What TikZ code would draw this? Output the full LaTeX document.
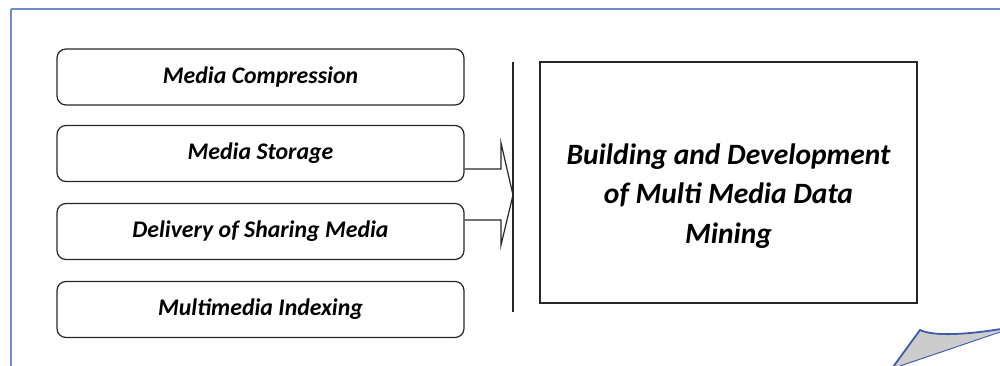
\documentclass[tikz,border=0pt]{standalone}
\usepackage{fontspec}
\setmainfont{Carlito}
\begin{document}
\begin{tikzpicture}[x=1pt,y=-1pt,
  lab/.style={font=\fontsize{23.8}{28}\selectfont\bfseries\itshape},
  ibox/.style={draw=black!85, line width=1.2pt, rounded corners=9pt, minimum width=407pt, minimum height=56pt, inner sep=0pt, lab},
  frameline/.style={draw={rgb,255:red,112;green,140;blue,205}, line width=1.3pt},
  curlline/.style={draw={rgb,255:red,63;green,90;blue,170}, line width=1.8pt},
]
\useasboundingbox (0,0) rectangle (1000,366);
\draw[frameline] (11,9) -- (1010,9);
\draw[frameline] (11,9) -- (11,376);

\node[ibox] (b1) at (260.5,77) {Media Compression};
\node[ibox] (b2) at (260.5,153.5) {Media Storage};
\node[ibox] (b3) at (260.5,231.5) {Delivery of Sharing Media};
\node[ibox] (b4) at (260.5,309.5) {Multimedia Indexing};

\node[draw=black!85, line width=1.2pt, minimum width=377pt, minimum height=241pt, inner sep=0pt] (main) at (728.5,182.5) {};
\node[align=center, inner sep=0pt, font=\fontsize{29.5}{39.5}\selectfont\bfseries\itshape] (maintext) at (728.5,196)
  {Building and Development\\of Multi Media Data\\Mining};

\coordinate (vtop) at (513,62);
\coordinate (vbot) at (513,312);
\draw[black!85, line width=1.2pt] (vtop) -- (vbot);

\coordinate (tip) at (513,195);
\draw[black!85, line width=1.2pt, line join=miter]
  (b2.east |- 0,169) -- (501,169) -- (501,143) -- (tip) -- (501,245) -- (501,220) -- (b3.east |- 0,220);

\filldraw[fill={rgb,255:red,204;green,204;blue,204}, draw=none]
  (893,366) -- (920,330) .. controls (935,337) and (970,334) .. (1000,330) -- (1000,331) -- (900,366) -- cycle;
\draw[curlline] (893,367) -- (920,330) .. controls (935,337) and (970,334) .. (1001,329);
\draw[draw={rgb,255:red,63;green,90;blue,170}, line width=1pt] (900,366) -- (1000,332);
\end{tikzpicture}
\end{document}
